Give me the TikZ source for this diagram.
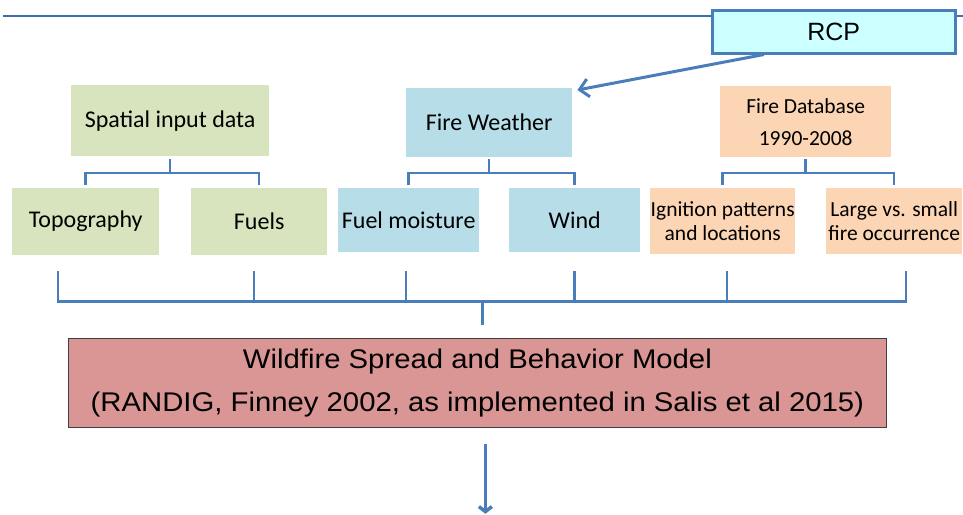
\documentclass[tikz,border=0pt]{standalone}
\usepackage{fontspec}
\setmainfont{Carlito}
\newfontfamily\arialf{Liberation Sans}
\usetikzlibrary{arrows.meta,calc}
\definecolor{lineblue}{HTML}{4A7EBB}
\definecolor{topblue}{HTML}{3A6EAE}
\definecolor{greenf}{HTML}{D7E4BD}
\definecolor{bluef}{HTML}{B7DDE8}
\definecolor{orangef}{HTML}{FCD5B5}
\definecolor{redf}{HTML}{D99694}
\definecolor{cyanf}{HTML}{CCFFFF}
\begin{document}
\begin{tikzpicture}[x=1pt,y=-1pt,
  box/.style={inner sep=0pt, anchor=north west, align=center, font=\fontsize{24}{28}\selectfont},
  smallbox/.style={box, font=\fontsize{21.5}{24}\selectfont},
  conn/.style={draw=lineblue, line width=2.5pt},
  arr/.style={draw=lineblue, line width=3.5pt}]
\useasboundingbox (0,0) rectangle (963,514);
\draw[topblue, line width=2pt] (3,16) -- (963,16);

\node[box, fill=greenf, minimum width=198pt, minimum height=71pt] (sp) at (71,85) {Spatial input data};
\node[box, fill=greenf, minimum width=147pt, minimum height=67pt] (topo) at (12,188) {Topography};
\node[box, fill=greenf, minimum width=136pt, minimum height=67pt] (fuels) at (191,188) {Fuels};

\node[box, fill=bluef, minimum width=166pt, minimum height=69pt] (fw) at (406,88) {Fire Weather};
\node[box, fill=bluef, minimum width=141pt, minimum height=64pt] (fm) at (338,188) {Fuel moisture};
\node[box, fill=bluef, minimum width=131pt, minimum height=64pt] (wind) at (509,188) {Wind};

\node[box, fill=orangef, minimum width=171pt, minimum height=71pt, font=\fontsize{21.5}{32}\selectfont] (fdb) at (720,86) {Fire Database\\1990-2008};
\node[smallbox, fill=orangef, minimum width=145pt, minimum height=66pt] (ign) at (650,188) {Ignition patterns\\and locations};
\node[smallbox, fill=orangef, minimum width=136pt, minimum height=66pt] (lg) at (826,188) {Large vs. small\\fire occurrence};

\node[box, fill=cyanf, draw=lineblue, line width=2.5pt, minimum width=243pt, minimum height=43pt, font=\arialf\fontsize{25}{28}\selectfont] (rcp) at (711,9) {RCP};

\node[box, fill=redf, draw=black!75, line width=0.8pt, minimum width=818pt, minimum height=89pt, font=\arialf\fontsize{27}{43}\selectfont] (model) at (68,338) {\scalebox{1.085}[1]{Wildfire Spread and Behavior Model}\\\scalebox{1.085}[1]{(RANDIG, Finney 2002, as implemented in Salis et al 2015)}};

% RCP arrow
\draw[arr, line width=3pt, -{Straight Barb[length=9pt,width=18pt]}] ($(rcp.south west)+(53,0)$) -- ($(fw.north east)+(5,2)$);

% upper brackets
\draw[conn] ($(sp.south)+(0,3)$) -- ($(sp.south)+(0,17)$);
\draw[conn] ($(topo.north)+(0,-3)$) -- ($(topo.north)+(0,-15)$) -- ($(fuels.north)+(0,-15)$) -- ($(fuels.north)+(0,-3)$);
\draw[conn] ($(fw.south)+(0,2)$) -- ($(fw.south)+(0,16)$);
\draw[conn] ($(fm.north)+(0,-3)$) -- ($(fm.north)+(0,-15)$) -- ($(wind.north)+(0,-15)$) -- ($(wind.north)+(0,-3)$);
\draw[conn] ($(fdb.south)+(0,2)$) -- ($(fdb.south)+(0,16)$);
\draw[conn] ($(ign.north)+(0,-3)$) -- ($(ign.north)+(0,-15)$) -- ($(lg.north)+(0,-15)$) -- ($(lg.north)+(0,-3)$);

% lower bracket
\coordinate (b1) at ($(topo.south)+(-27.5,16)$);
\coordinate (b2) at ($(fuels.south)+(-5,16)$);
\coordinate (b3) at ($(fm.south)+(-2.5,19)$);
\coordinate (b4) at ($(wind.south)+(0,19)$);
\coordinate (b5) at ($(ign.south)+(4.5,17)$);
\coordinate (b6) at ($(lg.south)+(12,17)$);
\draw[conn] (b1) -- ++(0,30) -| (b6);
\foreach \c in {b2,b3,b4,b5} \draw[conn] (\c) -- ++(0,30);
\draw[conn] ($(model.north)+(5,-37)$) -- ($(model.north)+(5,-13)$);

% output arrow
\draw[arr, -{Straight Barb[length=5pt,width=13pt]}] ($(model.south)+(8,16)$) -- ($(model.south)+(8,86)$);
\end{tikzpicture}
\end{document}
